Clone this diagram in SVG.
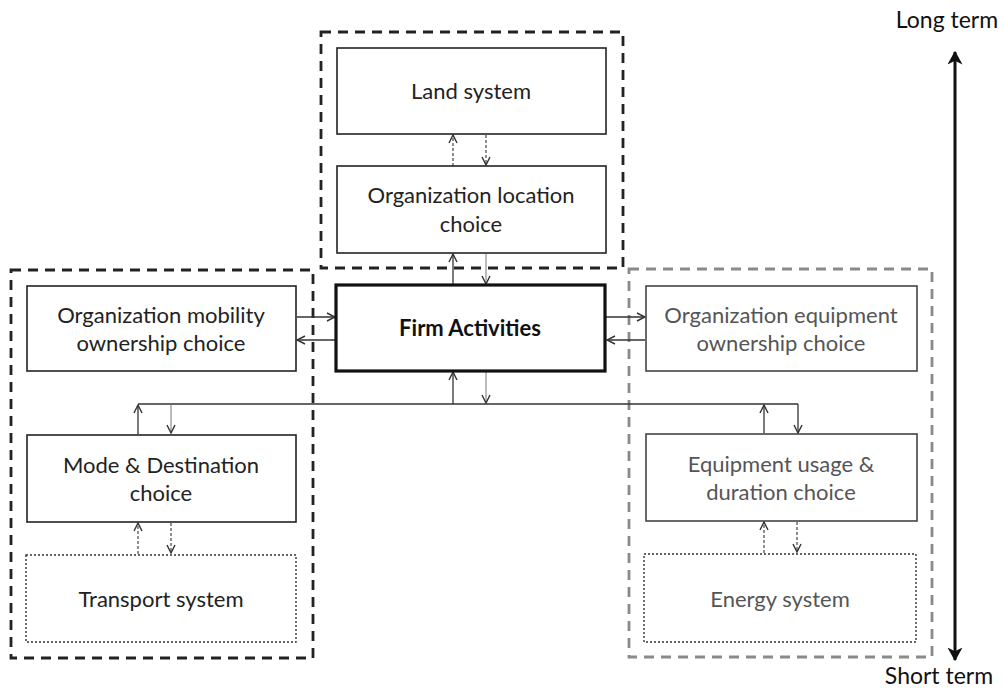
<svg xmlns="http://www.w3.org/2000/svg" width="1004" height="692" viewBox="0 0 1004 692">
  <style>
    .box { fill: #fff; stroke: #222; stroke-width: 1.6; }
    .box-g { fill: #fff; stroke: #444; stroke-width: 1.6; }
    .sys { fill: #fff; stroke: #333; stroke-width: 1.4; stroke-dasharray: 2 2; }
    .main { fill: #fff; stroke: #111; stroke-width: 3.2; }
    .grp { fill: none; stroke: #222; stroke-width: 2.8; stroke-dasharray: 10 7; }
    .grp-g { fill: none; stroke: #8a8a8a; stroke-width: 2.8; stroke-dasharray: 10 7; }
    .lbl { font-family: Lato, "Open Sans", "Liberation Sans", sans-serif; font-size: 22px; fill: #222; text-anchor: middle; }
    .lbl-g { fill: #555; }
    .bold { font-weight: bold; fill: #111; }
    .term { font-family: Lato, "Open Sans", "Liberation Sans", sans-serif; font-size: 23px; fill: #111; text-anchor: middle; }
    .c { fill: none; stroke: #333; stroke-width: 1.3; }
    .c-dot { fill: none; stroke: #555; stroke-width: 1.3; stroke-dasharray: 3 2; }
    .c-thin { fill: none; stroke: #777; stroke-width: 1; }
    .axis { fill: none; stroke: #111; stroke-width: 3; }
  </style>
  <defs>
    <marker id="v" viewBox="0 0 10 10" refX="9" refY="5" markerWidth="10" markerHeight="10" markerUnits="userSpaceOnUse" orient="auto">
      <path d="M1,1 L9,5 L1,9" fill="none" stroke="#333" stroke-width="1.4"/>
    </marker>
    <marker id="big" viewBox="0 0 12 12" refX="10" refY="6" markerWidth="15" markerHeight="15" markerUnits="userSpaceOnUse" orient="auto">
      <path d="M0,0 L11,6 L0,12 L3,6 Z" fill="#111"/>
    </marker>
  </defs>

  <!-- group frames -->
  <rect class="grp" x="321" y="32" width="302" height="236"/>
  <rect class="grp" x="11" y="270" width="302" height="388"/>
  <rect class="grp-g" x="629" y="269" width="303" height="388"/>

  <!-- connectors -->
  <g id="connectors">
    <!-- land system <-> location choice -->
    <line class="c-dot" x1="453" y1="166" x2="453" y2="135" marker-end="url(#v)"/>
    <line class="c-dot" x1="486" y1="135" x2="486" y2="165" marker-end="url(#v)"/>
    <!-- location choice <-> firm -->
    <line class="c" x1="453" y1="284" x2="453" y2="254" marker-end="url(#v)"/>
    <line class="c-thin" x1="486" y1="254" x2="486" y2="284" marker-end="url(#v)"/>
    <!-- mobility ownership <-> firm -->
    <line class="c" x1="297" y1="317" x2="335" y2="317" marker-end="url(#v)"/>
    <line class="c" x1="335" y1="340" x2="297" y2="340" marker-end="url(#v)"/>
    <!-- firm <-> equipment ownership -->
    <line class="c" x1="606" y1="317" x2="645" y2="317" marker-end="url(#v)"/>
    <line class="c" x1="645" y1="340" x2="607" y2="340" marker-end="url(#v)"/>
    <!-- shared bus below firm -->
    <line class="c" x1="138" y1="404" x2="798" y2="404"/>
    <line class="c" x1="453" y1="404" x2="453" y2="372" marker-end="url(#v)"/>
    <line class="c-thin" x1="486" y1="372" x2="486" y2="403" marker-end="url(#v)"/>
    <!-- bus <-> mode & destination -->
    <line class="c" x1="138" y1="434" x2="138" y2="405" marker-end="url(#v)"/>
    <line class="c-thin" x1="171" y1="404" x2="171" y2="433" marker-end="url(#v)"/>
    <!-- bus <-> equipment usage -->
    <line class="c" x1="764" y1="433" x2="764" y2="405" marker-end="url(#v)"/>
    <line class="c" x1="798" y1="404" x2="798" y2="433" marker-end="url(#v)"/>
    <!-- mode & destination <-> transport -->
    <line class="c-dot" x1="138" y1="554" x2="138" y2="523" marker-end="url(#v)"/>
    <line class="c-dot" x1="171" y1="523" x2="171" y2="553" marker-end="url(#v)"/>
    <!-- equipment usage <-> energy -->
    <line class="c-dot" x1="764" y1="553" x2="764" y2="522" marker-end="url(#v)"/>
    <line class="c-dot" x1="797" y1="522" x2="797" y2="552" marker-end="url(#v)"/>
  </g>

  <g id="land-system">
    <rect class="box" x="337" y="48" width="269" height="86"/>
    <text class="lbl" x="471" y="99">Land system</text>
  </g>
  <g id="location-choice">
    <rect class="box" x="337" y="166" width="269" height="87"/>
    <text class="lbl" x="471" y="203">Organization location</text>
    <text class="lbl" x="471" y="232">choice</text>
  </g>
  <g id="firm-activities">
    <rect class="main" x="336" y="285" width="269" height="86"/>
    <text class="lbl bold" x="470" y="336">Firm Activities</text>
  </g>
  <g id="mobility-ownership">
    <rect class="box" x="27" y="286" width="269" height="85"/>
    <text class="lbl" x="161" y="323">Organization mobility</text>
    <text class="lbl" x="161" y="351">ownership choice</text>
  </g>
  <g id="mode-destination">
    <rect class="box" x="27" y="435" width="269" height="87"/>
    <text class="lbl" x="161" y="473">Mode &amp; Destination</text>
    <text class="lbl" x="161" y="501">choice</text>
  </g>
  <g id="transport-system">
    <rect class="sys" x="26" y="555" width="270" height="87"/>
    <text class="lbl" x="161" y="607">Transport system</text>
  </g>
  <g id="equipment-ownership">
    <rect class="box-g" x="646" y="286" width="271" height="85"/>
    <text class="lbl lbl-g" x="781" y="323">Organization equipment</text>
    <text class="lbl lbl-g" x="781" y="351">ownership choice</text>
  </g>
  <g id="equipment-usage">
    <rect class="box-g" x="646" y="434" width="271" height="87"/>
    <text class="lbl lbl-g" x="781" y="472">Equipment usage &amp;</text>
    <text class="lbl lbl-g" x="781" y="500">duration choice</text>
  </g>
  <g id="energy-system">
    <rect class="sys" x="644" y="554" width="272" height="88"/>
    <text class="lbl lbl-g" x="780" y="607">Energy system</text>
  </g>

  <!-- time horizon axis -->
  <g id="time-axis">
    <line class="axis" x1="955" y1="340" x2="955" y2="52" marker-end="url(#big)"/>
    <line class="axis" x1="955" y1="340" x2="955" y2="660" marker-end="url(#big)"/>
    <text class="term" x="947" y="28">Long term</text>
    <text class="term" x="939" y="684">Short term</text>
  </g>
</svg>
